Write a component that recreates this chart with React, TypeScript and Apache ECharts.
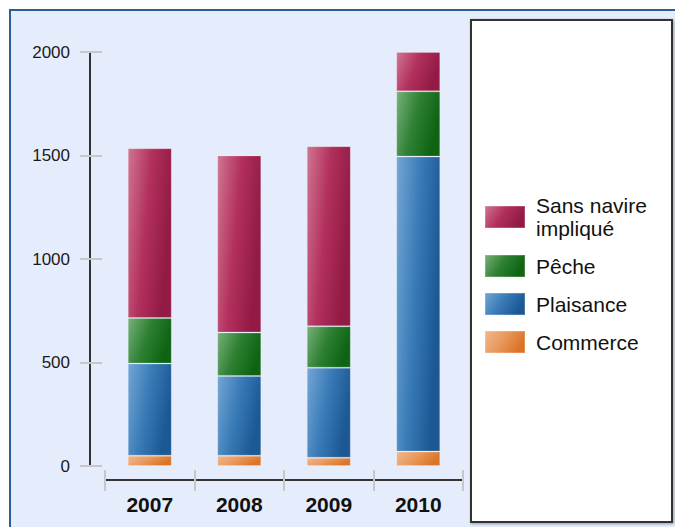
import React, { useEffect, useRef } from "react";
import * as echarts from "echarts";

const years = ["2007", "2008", "2009", "2010"];
const commerce = [50, 50, 40, 70];
const plaisance = [445, 385, 435, 1425];
const peche = [220, 210, 200, 315];
const sansNavire = [820, 855, 870, 190];
const seriesNames = ["Commerce", "Plaisance", "Pêche", "Sans navire\nimpliqué"];
const legendOrder = ["Sans navire\nimpliqué", "Pêche", "Plaisance", "Commerce"];

function grad(light: string, mid: string, dark: string) {
  return new echarts.graphic.LinearGradient(0, 0, 1, 0.35, [
    { offset: 0, color: light },
    { offset: 0.5, color: mid },
    { offset: 1, color: dark },
  ]);
}

export default function App() {
  const ref = useRef<HTMLDivElement>(null);
  useEffect(() => {
    if (!ref.current) return;
    const chart = echarts.init(ref.current, undefined, { renderer: "svg" });
    const colors = [
      grad("#f0b88f", "#e99a5e", "#dc7428"),
      grad("#74a6d4", "#3a7cb8", "#1b5894"),
      grad("#78b07a", "#2f8134", "#0e6413"),
      grad("#d07592", "#b2305d", "#921a45"),
    ];
    const values = [commerce, plaisance, peche, sansNavire];
    const axisLineStyle = { color: "#333", width: 2 };
    const tickStyle = { color: "#c8c8c8", width: 2 };
    chart.setOption({
      animation: false,
      backgroundColor: "#ffffff",
      graphic: [
        {
          type: "rect",
          z: -2,
          shape: { x: 10, y: 10, width: 720, height: 560 },
          style: { fill: "#e5ecfb", stroke: "#2b5d9b", lineWidth: 2 },
        },
        {
          type: "rect",
          z: -1,
          shape: { x: 471, y: 20, width: 201, height: 502 },
          style: {
            fill: "#ffffff",
            stroke: "#333333",
            lineWidth: 2,
            shadowColor: "rgba(0,0,0,0.35)",
            shadowBlur: 3,
            shadowOffsetX: 1,
            shadowOffsetY: 1,
          },
        },
      ],
      grid: { left: 105, right: 212, top: 52, bottom: 61 },
      legend: {
        data: legendOrder,
        orient: "vertical",
        left: 484,
        top: 194,
        padding: 0,
        itemWidth: 40,
        itemHeight: 22,
        itemGap: 14,
        icon: "rect",
        textStyle: {
          fontFamily: "Liberation Sans",
          fontSize: 21,
          lineHeight: 23,
          color: "#111",
          padding: [0, 0, 0, 6],
        },
      },
      xAxis: [
        {
          type: "category",
          data: years,
          position: "bottom",
          offset: 14,
          axisLine: { onZero: false, lineStyle: axisLineStyle },
          axisTick: { show: true, length: 11, lineStyle: tickStyle },
          axisLabel: {
            fontFamily: "Liberation Sans",
            fontWeight: "bold",
            fontSize: 21,
            color: "#111",
            margin: 14,
          },
        },
        {
          type: "category",
          data: years,
          position: "bottom",
          offset: 14,
          axisLine: { show: false, onZero: false },
          axisTick: { show: true, inside: true, length: 10, lineStyle: tickStyle },
          axisLabel: { show: false },
        },
      ],
      yAxis: [
        {
          type: "value",
          min: 0,
          max: 2000,
          interval: 500,
          position: "left",
          offset: 15,
          splitLine: { show: false },
          axisLine: { show: true, onZero: false, lineStyle: axisLineStyle },
          axisTick: { show: true, length: 10, lineStyle: tickStyle },
          axisLabel: {
            fontFamily: "Liberation Sans",
            fontSize: 17,
            color: "#1a1a1a",
            margin: 20,
            formatter: (v: number) => String(v),
          },
        },
        {
          type: "value",
          min: 0,
          max: 2000,
          interval: 500,
          position: "left",
          offset: 15,
          splitLine: { show: false },
          axisLine: { show: false, onZero: false },
          axisTick: { show: true, inside: true, length: 12, lineStyle: tickStyle },
          axisLabel: { show: false },
        },
      ],
      series: values.map((v, i) => ({
        name: seriesNames[i],
        type: "bar",
        stack: "total",
        barWidth: 44,
        xAxisIndex: 0,
        yAxisIndex: 0,
        data: v,
        itemStyle: {
          color: colors[i],
          borderColor: "rgba(255,255,255,0.2)",
          borderWidth: 1,
        },
      })),
    });
    return () => chart.dispose();
  }, []);
  return (
    <div
      ref={ref}
      style={{ position: "fixed", left: 0, top: 0, width: 675, height: 527 }}
    />
  );
}
